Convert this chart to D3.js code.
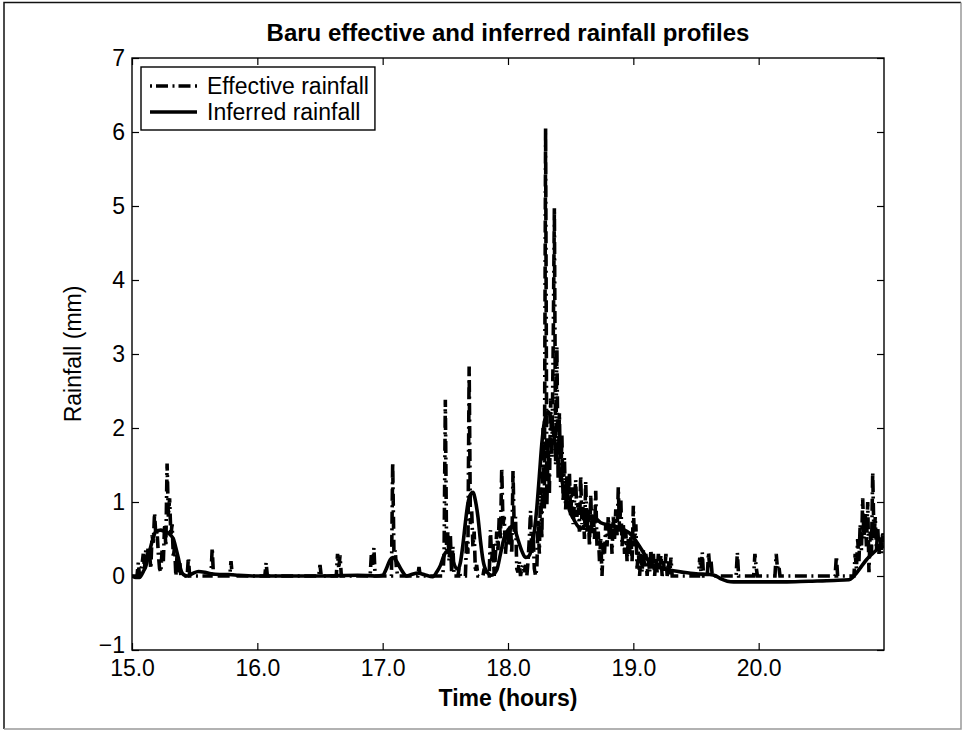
<!DOCTYPE html>
<html>
<head>
<meta charset="utf-8">
<title>Baru effective and inferred rainfall profiles</title>
<script src="https://d3js.org/d3.v7.min.js"></script>
<style>
  body { margin: 0; background: #fff; }
  svg { display: block; font-family: "Liberation Sans", Arial, Helvetica, sans-serif; }
</style>
</head>
<body>
<div id="chart"></div>
<script>
// x tick positions / labels (hours)
const xTicks = [15, 16, 17, 18, 19, 20];
const xTickLabels = ["15.0", "16.0", "17.0", "18.0", "19.0", "20.0"];
const yTicks = [-1, 0, 1, 2, 3, 4, 5, 6, 7];
const yTickLabels = ["\u22121", "0", "1", "2", "3", "4", "5", "6", "7"];

const seriesNames = ["Effective rainfall", "Inferred rainfall"];

// effective rainfall [hour, mm]
const effective = [
  [15.00, 0], [15.04, 0], [15.05, 0.18], [15.06, 0], [15.08, 0.15], [15.09, 0.3], [15.10, 0.1],
  [15.11, 0.35], [15.12, 0.25], [15.13, 0.4], [15.14, 0.3], [15.15, 0.1], [15.16, 0.55],
  [15.17, 0.45], [15.18, 0.85], [15.19, 0.55], [15.20, 0.6], [15.21, 0.3], [15.22, 0.1],
  [15.23, 0.05], [15.24, 0.35], [15.25, 0.2], [15.26, 0.7], [15.27, 0.4], [15.28, 1.52],
  [15.29, 0.8], [15.30, 1.05], [15.31, 0.55], [15.32, 0.7], [15.33, 0.25], [15.34, 0.4],
  [15.35, 0], [15.36, 0.3], [15.37, 0.05], [15.38, 0.2], [15.39, 0], [15.44, 0], [15.45, 0.25],
  [15.46, 0], [15.63, 0], [15.64, 0.38], [15.65, 0], [15.78, 0], [15.79, 0.2], [15.80, 0],
  [16.06, 0], [16.07, 0.18], [16.08, 0], [16.49, 0], [16.50, 0.15], [16.51, 0],
  [16.63, 0], [16.64, 0.3], [16.65, 0.1], [16.66, 0.28], [16.67, 0],
  [16.90, 0], [16.91, 0.3], [16.92, 0.15], [16.93, 0.38], [16.94, 0],
  [17.07, 0], [17.08, 1.53], [17.09, 0.3], [17.10, 0.35], [17.11, 0.1], [17.12, 0],
  [17.28, 0], [17.29, 0.12], [17.30, 0],
  [17.48, 0], [17.49, 0.3], [17.50, 2.38], [17.51, 0.35], [17.52, 0.6], [17.53, 0.2],
  [17.54, 0.55], [17.55, 0.05], [17.56, 0.4], [17.57, 0], [17.60, 0], [17.61, 0.1], [17.62, 0],
  [17.66, 0], [17.67, 0.5], [17.68, 0.3], [17.69, 2.83], [17.70, 0.7], [17.71, 0.9], [17.72, 0.4],
  [17.73, 0.6], [17.74, 0.05], [17.75, 0.15], [17.76, 0], [17.80, 0], [17.81, 0.1], [17.82, 0],
  [17.85, 0], [17.86, 0.62], [17.87, 0.2], [17.88, 0.45], [17.89, 0], [17.90, 0.3], [17.91, 0.6],
  [17.92, 0.35], [17.93, 0.8], [17.94, 0.5], [17.95, 1.46], [17.96, 0.7], [17.97, 0.8],
  [17.98, 0.3], [17.99, 0.55], [18.00, 0.6], [18.01, 0.4], [18.02, 0.7], [18.03, 0.3],
  [18.04, 1.42], [18.05, 0.6], [18.06, 0.8], [18.07, 0.1], [18.08, 0.05], [18.09, 0.2],
  [18.10, 0], [18.11, 0.1], [18.12, 0.15], [18.13, 0.05], [18.14, 0.15], [18.15, 0],
  [18.16, 0.2], [18.17, 0.5], [18.18, 0.88], [18.19, 0.3], [18.20, 0.6], [18.21, 0.1],
  [18.22, 0], [18.23, 0.1], [18.24, 0.75], [18.25, 0.3], [18.26, 1.2], [18.27, 0.5],
  [18.28, 2.0], [18.29, 0.9], [18.30, 6.05], [18.31, 0.95], [18.32, 1.8], [18.33, 1.1],
  [18.34, 2.4], [18.35, 1.6], [18.36, 3.0], [18.37, 4.97], [18.38, 1.5], [18.39, 3.1],
  [18.40, 1.3], [18.41, 2.2], [18.42, 1.2], [18.43, 1.9], [18.44, 1.0], [18.45, 1.6],
  [18.46, 0.9], [18.47, 1.35], [18.48, 1.0], [18.49, 1.4], [18.50, 0.8], [18.51, 1.2],
  [18.52, 0.7], [18.53, 1.0], [18.54, 1.3], [18.55, 0.8], [18.56, 1.0], [18.57, 0.6],
  [18.58, 1.35], [18.59, 0.7], [18.60, 1.0], [18.61, 0.5], [18.62, 1.28], [18.63, 0.6],
  [18.64, 0.9], [18.65, 0.4], [18.66, 1.1], [18.67, 0.55], [18.68, 0.9], [18.69, 0.5],
  [18.70, 1.15], [18.71, 0.4], [18.72, 0.6], [18.73, 0.2], [18.74, 0.5], [18.75, 0],
  [18.76, 0.45], [18.77, 0.3], [18.78, 0.7], [18.79, 0.4], [18.80, 0.8], [18.81, 0.5],
  [18.82, 0.7], [18.83, 0.3], [18.84, 0.8], [18.85, 0.5], [18.86, 0.9], [18.87, 0.55],
  [18.88, 1.2], [18.89, 0.6], [18.90, 1.05], [18.91, 0.4], [18.92, 0.7], [18.93, 0.3],
  [18.94, 0.6], [18.95, 0.2], [18.96, 0.5], [18.97, 0.3], [18.98, 0.55], [18.99, 0.2],
  [19.00, 0.95], [19.01, 0.4], [19.02, 0.7], [19.03, 0.1], [19.04, 0.35], [19.05, 0],
  [19.06, 0.3], [19.07, 0.05], [19.08, 0.35], [19.09, 0.1], [19.10, 0.3], [19.11, 0],
  [19.12, 0.25], [19.13, 0.05], [19.14, 0.35], [19.15, 0.1], [19.16, 0.3], [19.17, 0],
  [19.18, 0.25], [19.19, 0.05], [19.20, 0.3], [19.21, 0.1], [19.22, 0.28], [19.23, 0],
  [19.24, 0.2], [19.25, 0.05], [19.26, 0.3], [19.27, 0], [19.28, 0.2], [19.29, 0],
  [19.30, 0.25], [19.31, 0], [19.52, 0], [19.53, 0.25], [19.54, 0.05], [19.55, 0.32],
  [19.56, 0], [19.59, 0], [19.60, 0.32], [19.61, 0.1], [19.62, 0.2], [19.63, 0],
  [19.82, 0], [19.83, 0.32], [19.84, 0], [19.96, 0], [19.97, 0.3], [19.98, 0.12], [19.99, 0],
  [20.13, 0], [20.14, 0.3], [20.15, 0.1], [20.16, 0.15], [20.17, 0], [20.61, 0], [20.62, 0.27],
  [20.63, 0], [20.76, 0], [20.77, 0.3], [20.78, 0.1], [20.79, 0.5], [20.80, 0.2], [20.81, 0.7],
  [20.82, 0.35], [20.83, 1.05], [20.84, 0.5], [20.85, 0.85], [20.86, 0.4], [20.87, 1.0],
  [20.88, 0.05], [20.89, 0.6], [20.90, 0.3], [20.91, 1.4], [20.92, 0.5], [20.93, 0.8],
  [20.94, 0.35], [20.95, 0.65], [20.96, 0.3], [20.97, 0.55], [20.98, 0.3], [20.99, 0.6],
  [21.00, 0.45]
];

// inferred rainfall [hour, mm]
const inferred = [
  [15.00, 0.0], [15.03, -0.02], [15.06, -0.02], [15.09, 0.06], [15.11, 0.13], [15.13, 0.27],
  [15.15, 0.4], [15.17, 0.52], [15.19, 0.6], [15.23, 0.62], [15.26, 0.6], [15.29, 0.58],
  [15.31, 0.55], [15.33, 0.5], [15.35, 0.38], [15.37, 0.24], [15.39, 0.08], [15.41, 0.02],
  [15.44, 0.0], [15.48, 0.03], [15.53, 0.06], [15.58, 0.05], [15.63, 0.03], [15.70, 0.02],
  [15.77, 0.02], [15.85, 0.01], [16.0, 0.0], [16.5, 0.0], [16.80, 0.01], [16.95, 0.0],
  [17.00, 0.01], [17.03, 0.1], [17.06, 0.22], [17.08, 0.25], [17.11, 0.2], [17.15, 0.08],
  [17.19, 0.0], [17.23, 0.02], [17.28, 0.04], [17.33, 0.02], [17.40, -0.01], [17.43, 0.05],
  [17.46, 0.14], [17.49, 0.28], [17.51, 0.33], [17.53, 0.32], [17.55, 0.25], [17.58, 0.12],
  [17.60, 0.09], [17.62, 0.18], [17.64, 0.42], [17.66, 0.72], [17.68, 0.98], [17.70, 1.1],
  [17.72, 1.13], [17.74, 1.02], [17.76, 0.8], [17.78, 0.48], [17.80, 0.22], [17.83, 0.06],
  [17.87, 0.01], [17.91, 0.08], [17.94, 0.3], [17.97, 0.52], [18.00, 0.62], [18.03, 0.67],
  [18.06, 0.6], [18.08, 0.49], [18.11, 0.34], [18.14, 0.25], [18.16, 0.26], [18.19, 0.38],
  [18.21, 0.6], [18.23, 0.92], [18.25, 1.35], [18.27, 1.79], [18.29, 2.08], [18.32, 2.22],
  [18.35, 2.06], [18.37, 1.85], [18.39, 1.61], [18.42, 1.38], [18.44, 1.21], [18.47, 1.02],
  [18.49, 0.89], [18.52, 0.78], [18.55, 0.69], [18.58, 0.64], [18.61, 0.68], [18.64, 0.75],
  [18.67, 0.8], [18.70, 0.78], [18.74, 0.72], [18.80, 0.69], [18.86, 0.67], [18.92, 0.63],
  [18.97, 0.58], [19.01, 0.5], [19.05, 0.4], [19.09, 0.29], [19.13, 0.18], [19.18, 0.13],
  [19.24, 0.1], [19.32, 0.07], [19.40, 0.05], [19.50, 0.03], [19.61, 0.02], [19.66, 0.0],
  [19.70, -0.04], [19.75, -0.07], [19.80, -0.08], [20.00, -0.08], [20.20, -0.08],
  [20.40, -0.07], [20.60, -0.06], [20.72, -0.05], [20.75, -0.02], [20.78, 0.04],
  [20.82, 0.13], [20.86, 0.22], [20.90, 0.29], [20.94, 0.35], [20.97, 0.38], [21.00, 0.4]
];

const W = 965, H = 731;
const margin = { top: 58, right: 81, bottom: 81, left: 132 };
const pw = W - margin.left - margin.right;
const ph = H - margin.top - margin.bottom;
const fontMain = 23;

const svg = d3.select("#chart").append("svg")
  .attr("width", W).attr("height", H);

// figure frame
svg.append("path").attr("d", `M4,729 V2.5 H961`)
  .attr("fill", "none").attr("stroke", "#111").attr("stroke-width", 1.5);
svg.append("path").attr("d", `M961,2.5 V729 H4`)
  .attr("fill", "none").attr("stroke", "#999").attr("stroke-width", 1.5);

const x = d3.scaleLinear().domain([15, 21]).range([0, pw]);
const y = d3.scaleLinear().domain([-1, 7]).range([ph, 0]);

const g = svg.append("g").attr("transform", `translate(${margin.left},${margin.top})`);

g.append("defs").append("clipPath").attr("id", "clip")
  .append("rect").attr("width", pw).attr("height", ph);

const tick = 7;
const xLab = d => xTickLabels[xTicks.indexOf(d)];
const yLab = d => yTickLabels[yTicks.indexOf(d)];

const xBottom = g.append("g").attr("transform", `translate(0,${ph})`)
  .call(d3.axisBottom(x).tickValues(xTicks).tickFormat(xLab)
    .tickSizeInner(-tick).tickSizeOuter(0).tickPadding(6));
const xTop = g.append("g")
  .call(d3.axisTop(x).tickValues(xTicks).tickFormat("")
    .tickSizeInner(-tick).tickSizeOuter(0));
const yLeft = g.append("g")
  .call(d3.axisLeft(y).tickValues(yTicks).tickFormat(yLab)
    .tickSizeInner(-tick).tickSizeOuter(0).tickPadding(7));
const yRight = g.append("g").attr("transform", `translate(${pw},0)`)
  .call(d3.axisRight(y).tickValues(yTicks).tickFormat("")
    .tickSizeInner(-tick).tickSizeOuter(0));

[xBottom, xTop, yLeft, yRight].forEach(a => {
  a.select(".domain").remove();
  a.selectAll("line").attr("stroke", "#000").attr("stroke-width", 1.2);
  a.selectAll("text").attr("fill", "#000")
    .style("font-size", fontMain + "px")
    .style("font-family", "'Liberation Sans', Arial, sans-serif");
});
xBottom.selectAll("text").attr("dy", "0.85em");
// lowest y label sits a bit higher, as in the reference
yLeft.selectAll(".tick").filter(d => d === -1).select("text").attr("dy", "0.1em");

// box
g.append("rect").attr("width", pw).attr("height", ph)
  .attr("fill", "none").attr("stroke", "#000").attr("stroke-width", 1.4);

const line = d3.line().x(d => x(d[0])).y(d => y(d[1]));
const lines = g.append("g").attr("clip-path", "url(#clip)");

lines.append("path").datum(effective).attr("d", line)
  .attr("fill", "none").attr("stroke", "#000").attr("stroke-width", 3.6)
  .attr("stroke-dasharray", "12 4.5 2 4.5").attr("stroke-linejoin", "miter");

lines.append("path").datum(inferred)
  .attr("d", d3.line().curve(d3.curveMonotoneX).x(d => x(d[0])).y(d => y(d[1])))
  .attr("fill", "none").attr("stroke", "#000").attr("stroke-width", 3.6)
  .attr("stroke-linejoin", "round");

// title and labels
svg.append("text").attr("x", margin.left + pw / 2).attr("y", 41)
  .attr("text-anchor", "middle").style("font-size", "24px").style("font-weight", "bold")
  .text("Baru effective and inferred rainfall profiles");
svg.append("text").attr("x", margin.left + pw / 2).attr("y", 706)
  .attr("text-anchor", "middle").style("font-size", "23px").style("font-weight", "bold")
  .text("Time (hours)");
svg.append("text").attr("transform", `translate(81,${margin.top + ph / 2}) rotate(-90)`)
  .attr("text-anchor", "middle").style("font-size", fontMain + "px")
  .text("Rainfall (mm)");

// legend
const lg = g.append("g").attr("transform", "translate(9,9)");
const lgBox = lg.append("rect").attr("fill", "#fff").attr("stroke", "#000").attr("stroke-width", 1.4)
  .attr("height", 63);
const rows = lg.selectAll("g.row").data(seriesNames).join("g")
  .attr("transform", (d, i) => `translate(0,${19 + i * 26})`);
rows.append("line").attr("x1", 9).attr("x2", 56)
  .attr("stroke", "#000").attr("stroke-width", 3.5)
  .attr("stroke-dasharray", (d, i) => i === 0 ? "2 4 12 4.5" : null);
rows.append("text").attr("x", 66).attr("dy", "0.35em")
  .style("font-size", fontMain + "px").text(d => d);
const tw = d3.max(rows.selectAll("text").nodes(), n => n.getComputedTextLength());
lgBox.attr("width", 66 + tw + 6);
</script>
</body>
</html>
